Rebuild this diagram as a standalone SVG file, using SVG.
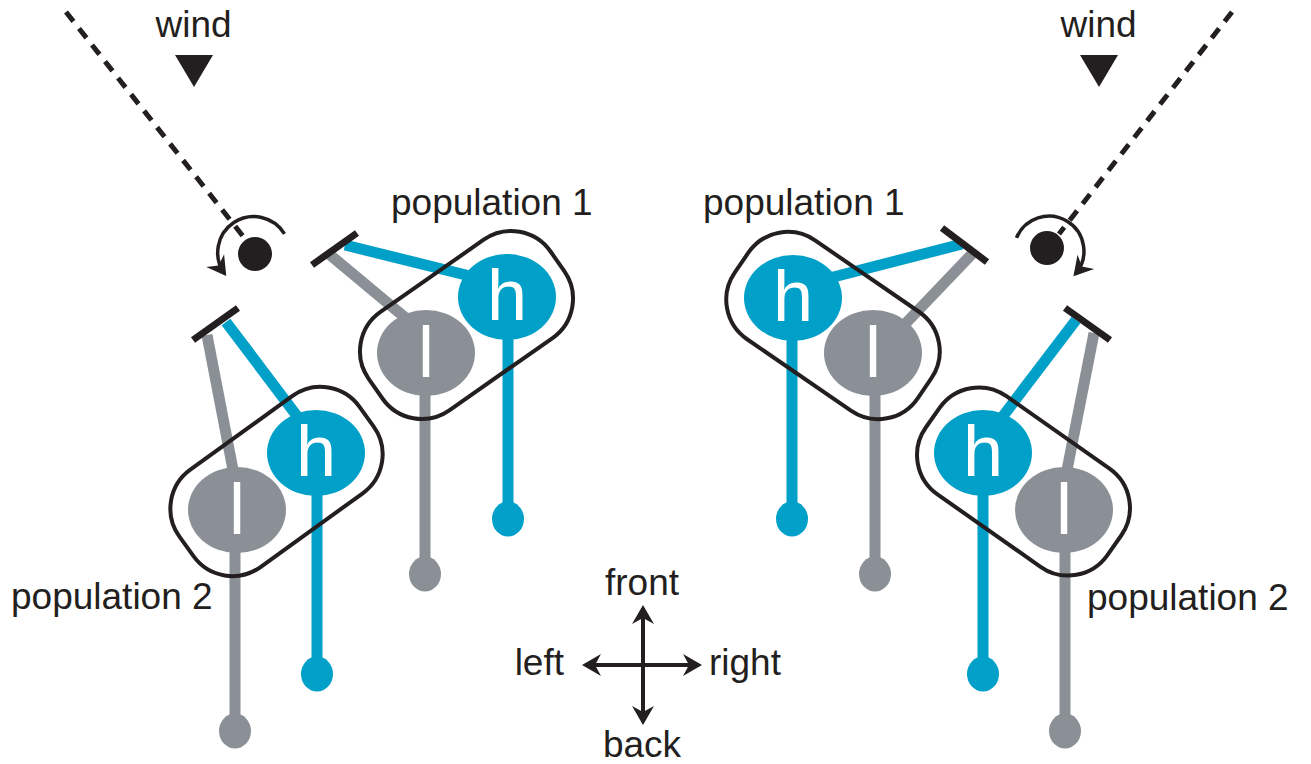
<svg xmlns="http://www.w3.org/2000/svg" width="1311" height="764" viewBox="0 0 1311 764">
<style>
.txt{font-family:"Liberation Sans",Arial,sans-serif;font-size:37px;fill:#231f20}
.lbl{font-family:"Liberation Sans",Arial,sans-serif;font-size:72px;fill:#ffffff;text-anchor:middle}
.blue{stroke:#00a0c8;stroke-width:11;fill:none}
.grey{stroke:#8a9096;stroke-width:11;fill:none}
.bfill{fill:#00a0c8}
.gfill{fill:#8a9096}
.bar{stroke:#231f20;stroke-width:7;fill:none}
.cap{fill:none;stroke:#231f20;stroke-width:4}
.dash{stroke:#231f20;stroke-width:5;stroke-dasharray:12 9;fill:none}
.arc{stroke:#231f20;stroke-width:3.5;fill:none;marker-end:url(#ah)}
.ax{stroke:#231f20;stroke-width:4;fill:none;marker-start:url(#ah);marker-end:url(#ah)}
</style>
<defs>
<marker id="ah" markerUnits="userSpaceOnUse" markerWidth="26" markerHeight="26" viewBox="-22 -13 26 26" refX="-3" refY="0" orient="auto-start-reverse" overflow="visible">
<path d="M0,0 L-19,-11 L-13,0 L-19,11 Z" fill="#231f20"/>
</marker>
</defs>
<rect width="1311" height="764" fill="#ffffff"/>

<g id="wind-left">
<text class="txt" x="193.5" y="37" text-anchor="middle">wind</text>
<polygon points="175,55 213,55 194,87" fill="#231f20"/>
<line class="dash" x1="66" y1="12" x2="246" y2="240"/>
<circle cx="255" cy="254" r="17" fill="#231f20"/>
<path class="arc" d="M284.5,233.9 A36,36 0 1 0 224.5,273.6"/>
</g>
<g id="wind-right">
<text class="txt" x="1098.5" y="37" text-anchor="middle">wind</text>
<polygon points="1080,55 1118,55 1099,87" fill="#231f20"/>
<line class="dash" x1="1232" y1="12" x2="1059" y2="234"/>
<circle cx="1047" cy="248" r="17" fill="#231f20"/>
<path class="arc" d="M1016.5,237.9 A35,35 0 1 1 1075.4,274"/>
</g>

<g id="connectors">
<line class="blue" x1="345" y1="245" x2="490" y2="281"/>
<line class="grey" x1="329" y1="254" x2="420" y2="330"/>
<line class="blue" x1="226" y1="322" x2="300" y2="420"/>
<line class="grey" x1="207" y1="335" x2="234" y2="475"/>
<line class="blue" x1="962" y1="244" x2="810" y2="283"/>
<line class="grey" x1="972" y1="254" x2="885" y2="345"/>
<line class="blue" x1="1076" y1="320" x2="1000" y2="420"/>
<line class="grey" x1="1094" y1="333" x2="1066" y2="475"/>
</g>

<g id="inhibition-bars">
<line class="bar" x1="312" y1="265" x2="357" y2="233"/>
<line class="bar" x1="193" y1="340" x2="238" y2="308"/>
<line class="bar" x1="942" y1="228" x2="987" y2="262"/>
<line class="bar" x1="1065" y1="308" x2="1110" y2="340"/>
</g>

<g id="population1-left">
<line class="grey" x1="425" y1="353" x2="425" y2="570"/>
<ellipse class="gfill" cx="425" cy="574" rx="16" ry="17.5"/>
<line class="blue" x1="508" y1="297" x2="508" y2="515"/>
<ellipse class="bfill" cx="508" cy="519" rx="16" ry="17.5"/>
<ellipse class="gfill" cx="426" cy="353" rx="49" ry="43"/>
<text class="lbl" x="426" y="377">l</text>
<ellipse class="bfill" cx="507" cy="297" rx="49" ry="43"/>
<text class="lbl" x="507" y="320">h</text>
<rect class="cap" x="355.5" y="265" width="222" height="120" rx="48" transform="rotate(-35 466.5 325)"/>
<text class="txt" x="391" y="215">population 1</text>
</g>

<g id="population2-left">
<line class="grey" x1="235" y1="510" x2="235" y2="727"/>
<ellipse class="gfill" cx="235" cy="731" rx="16" ry="17.5"/>
<line class="blue" x1="317" y1="453" x2="317" y2="670"/>
<ellipse class="bfill" cx="317" cy="674" rx="16" ry="17.5"/>
<ellipse class="gfill" cx="237" cy="510" rx="49" ry="43"/>
<text class="lbl" x="237" y="534">l</text>
<ellipse class="bfill" cx="316" cy="453" rx="49" ry="43"/>
<text class="lbl" x="316" y="476">h</text>
<rect class="cap" x="165.5" y="421.5" width="222" height="120" rx="48" transform="rotate(-35.8 276.5 481.5)"/>
<text class="txt" x="11" y="609">population 2</text>
</g>

<g id="population1-right">
<line class="blue" x1="792" y1="298" x2="792" y2="515"/>
<ellipse class="bfill" cx="792" cy="519" rx="16" ry="17.5"/>
<line class="grey" x1="875" y1="353" x2="875" y2="570"/>
<ellipse class="gfill" cx="875" cy="574" rx="16" ry="17.5"/>
<ellipse class="bfill" cx="793" cy="298" rx="49" ry="43"/>
<text class="lbl" x="793" y="321">h</text>
<ellipse class="gfill" cx="873" cy="353" rx="49" ry="43"/>
<text class="lbl" x="873" y="377">l</text>
<rect class="cap" x="722" y="265.5" width="222" height="120" rx="48" transform="rotate(34.5 833 325.5)"/>
<text class="txt" x="703" y="215">population 1</text>
</g>

<g id="population2-right">
<line class="blue" x1="983" y1="453" x2="983" y2="670"/>
<ellipse class="bfill" cx="983" cy="674" rx="16" ry="17.5"/>
<line class="grey" x1="1065" y1="510" x2="1065" y2="727"/>
<ellipse class="gfill" cx="1065" cy="731" rx="16" ry="17.5"/>
<ellipse class="bfill" cx="983" cy="453" rx="49" ry="43"/>
<text class="lbl" x="983" y="476">h</text>
<ellipse class="gfill" cx="1064" cy="510" rx="49" ry="43"/>
<text class="lbl" x="1064" y="534">l</text>
<rect class="cap" x="912.5" y="421.5" width="222" height="120" rx="48" transform="rotate(35.1 1023.5 481.5)"/>
<text class="txt" x="1087" y="610">population 2</text>
</g>

<g id="compass">
<line class="ax" x1="643" y1="722" x2="643" y2="608"/>
<line class="ax" x1="585" y1="665" x2="699" y2="665"/>
<text class="txt" x="642" y="595" text-anchor="middle">front</text>
<text class="txt" x="642" y="757" text-anchor="middle">back</text>
<text class="txt" x="564" y="675" text-anchor="end">left</text>
<text class="txt" x="709" y="675">right</text>
</g>
</svg>
